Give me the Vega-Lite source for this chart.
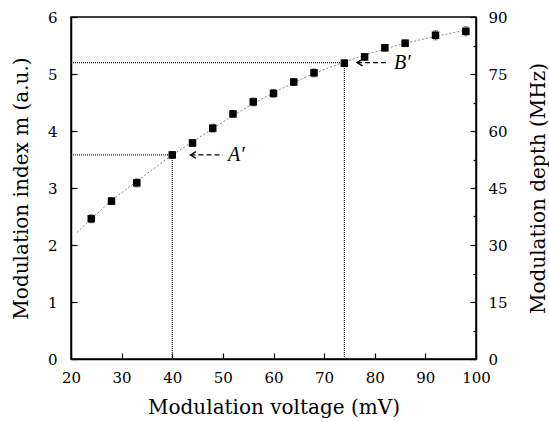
{
  "$schema": "https://vega.github.io/schema/vega-lite/v6.json",
  "width": 405,
  "height": 342,
  "autosize": "none",
  "padding": {"left": 71, "top": 17, "right": 73, "bottom": 63},
  "background": "white",
  "config": {
    "view": {"stroke": "black", "strokeWidth": 1.5},
    "font": "DejaVu Serif",
    "axis": {
      "grid": false,
      "domainColor": "black",
      "domainWidth": 1.5,
      "tickColor": "black",
      "tickWidth": 1.2,
      "labelColor": "black",
      "titleColor": "black",
      "labelFont": "DejaVu Serif",
      "titleFont": "DejaVu Serif",
      "labelFontSize": 15,
      "titleFontSize": 20,
      "titleFontWeight": "normal",
      "labelFlush": false
    }
  },
  "datasets": {
    "points": [
      {"v": 24, "m": 2.46, "err": 0.07},
      {"v": 28, "m": 2.77, "err": 0.06},
      {"v": 33, "m": 3.09, "err": 0.07},
      {"v": 40, "m": 3.58, "err": 0.06},
      {"v": 44, "m": 3.79, "err": 0.06},
      {"v": 48, "m": 4.05, "err": 0.07},
      {"v": 52, "m": 4.3, "err": 0.06},
      {"v": 56, "m": 4.51, "err": 0.07},
      {"v": 60, "m": 4.66, "err": 0.07},
      {"v": 64, "m": 4.86, "err": 0.06},
      {"v": 68, "m": 5.02, "err": 0.07},
      {"v": 74, "m": 5.19, "err": 0.06},
      {"v": 78, "m": 5.3, "err": 0.06},
      {"v": 82, "m": 5.46, "err": 0.06},
      {"v": 86, "m": 5.54, "err": 0.06},
      {"v": 92, "m": 5.68, "err": 0.08},
      {"v": 98, "m": 5.75, "err": 0.08}
    ],
    "fit": [
      {"v": 21.2, "m": 2.22},
      {"v": 24, "m": 2.46},
      {"v": 28, "m": 2.78},
      {"v": 33, "m": 3.12},
      {"v": 40, "m": 3.58},
      {"v": 44, "m": 3.81},
      {"v": 48, "m": 4.04},
      {"v": 52, "m": 4.27},
      {"v": 56, "m": 4.48},
      {"v": 60, "m": 4.67},
      {"v": 64, "m": 4.85},
      {"v": 68, "m": 5.01},
      {"v": 74, "m": 5.21},
      {"v": 78, "m": 5.33},
      {"v": 82, "m": 5.44},
      {"v": 86, "m": 5.54},
      {"v": 92, "m": 5.66},
      {"v": 98, "m": 5.77}
    ],
    "hlines": [
      {"v": 20, "v2": 40, "m": 3.58},
      {"v": 20, "v2": 74, "m": 5.2}
    ],
    "vlines": [
      {"v": 40, "m": 0, "m2": 3.58},
      {"v": 74, "m": 0, "m2": 5.2}
    ],
    "arrows": [
      {"label": "A′", "v": 43.6, "tail": 50, "tx": 51, "m": 3.58},
      {"label": "B′", "v": 76.5, "tail": 82.8, "tx": 83.8, "m": 5.2}
    ],
    "depth": [{"d": 0}, {"d": 90}]
  },
  "layer": [
    {
      "data": {"name": "fit"},
      "mark": {"type": "line", "color": "#888888", "strokeWidth": 1, "strokeDash": [2, 2]},
      "encoding": {
        "x": {
          "field": "v", "type": "quantitative",
          "scale": {"domain": [20, 100], "nice": false, "zero": false},
          "axis": {
            "orient": "bottom",
            "title": "Modulation voltage (mV)",
            "format": "d",
            "values": [20, 25, 30, 35, 40, 45, 50, 55, 60, 65, 70, 75, 80, 85, 90, 95, 100],
            "labelExpr": "datum.value % 10 === 0 ? datum.label : ''",
            "tickSize": {"condition": {"test": "datum.value % 10 === 0", "value": -6}, "value": -3},
            "labelPadding": 17,
            "titlePadding": 12
          }
        },
        "y": {
          "field": "m", "type": "quantitative",
          "scale": {"domain": [0, 6], "nice": false},
          "axis": {
            "orient": "left",
            "title": "Modulation index m (a.u.)",
            "format": "d",
            "values": [0, 0.5, 1, 1.5, 2, 2.5, 3, 3.5, 4, 4.5, 5, 5.5, 6],
            "labelExpr": "datum.value % 1 === 0 ? datum.label : ''",
            "tickSize": {"condition": {"test": "datum.value % 1 === 0", "value": -6}, "value": -3},
            "labelPadding": 20,
            "titlePadding": 16
          }
        }
      }
    },
    {
      "data": {"name": "hlines"},
      "mark": {"type": "rule", "color": "#222222", "strokeWidth": 1.2, "strokeDash": [1, 1]},
      "encoding": {
        "x": {"field": "v", "type": "quantitative"},
        "x2": {"field": "v2"},
        "y": {"field": "m", "type": "quantitative", "scale": {"domain": [0, 6], "nice": false}, "axis": null}
      }
    },
    {
      "data": {"name": "vlines"},
      "mark": {"type": "rule", "color": "#222222", "strokeWidth": 1.2, "strokeDash": [1, 1]},
      "encoding": {
        "x": {"field": "v", "type": "quantitative"},
        "y": {"field": "m", "type": "quantitative", "scale": {"domain": [0, 6], "nice": false}, "axis": null},
        "y2": {"field": "m2"}
      }
    },
    {
      "data": {"name": "points"},
      "mark": {"type": "errorbar", "ticks": {"size": 5, "color": "#555555"}, "color": "#555555", "thickness": 1},
      "encoding": {
        "x": {"field": "v", "type": "quantitative"},
        "y": {"field": "m", "type": "quantitative", "scale": {"domain": [0, 6], "nice": false}, "axis": null},
        "yError": {"field": "err"}
      }
    },
    {
      "data": {"name": "points"},
      "mark": {"type": "square", "color": "black", "filled": true, "opacity": 1, "size": 56},
      "encoding": {
        "x": {"field": "v", "type": "quantitative"},
        "y": {"field": "m", "type": "quantitative", "scale": {"domain": [0, 6], "nice": false}, "axis": null}
      }
    },
    {
      "data": {"name": "arrows"},
      "mark": {"type": "rule", "color": "black", "strokeWidth": 1.3, "strokeDash": [5, 3]},
      "encoding": {
        "x": {"field": "v", "type": "quantitative"},
        "x2": {"field": "tail"},
        "y": {"field": "m", "type": "quantitative", "scale": {"domain": [0, 6], "nice": false}, "axis": null}
      }
    },
    {
      "data": {"name": "arrows"},
      "mark": {"type": "point", "shape": "M2,-1.2L0,0L2,1.2", "filled": false, "stroke": "black", "strokeWidth": 1.4, "size": 30, "opacity": 1},
      "encoding": {
        "x": {"field": "v", "type": "quantitative"},
        "y": {"field": "m", "type": "quantitative", "scale": {"domain": [0, 6], "nice": false}, "axis": null}
      }
    },
    {
      "data": {"name": "arrows"},
      "mark": {"type": "text", "align": "left", "baseline": "middle", "font": "Liberation Serif", "fontStyle": "italic", "fontSize": 20, "color": "black"},
      "encoding": {
        "x": {"field": "tx", "type": "quantitative"},
        "y": {"field": "m", "type": "quantitative", "scale": {"domain": [0, 6], "nice": false}, "axis": null},
        "text": {"field": "label"}
      }
    },
    {
      "data": {"name": "depth"},
      "mark": {"type": "point", "opacity": 0},
      "encoding": {
        "y": {
          "field": "d", "type": "quantitative",
          "scale": {"domain": [0, 90], "nice": false},
          "axis": {
            "orient": "right",
            "title": "Modulation depth (MHz)",
            "titleAngle": 270,
            "format": "d",
            "values": [0, 7.5, 15, 22.5, 30, 37.5, 45, 52.5, 60, 67.5, 75, 82.5, 90],
            "labelExpr": "datum.value % 15 === 0 ? datum.label : ''",
            "tickSize": {"condition": {"test": "datum.value % 15 === 0", "value": -6}, "value": -3},
            "labelPadding": 18,
            "titlePadding": 41
          }
        }
      }
    }
  ],
  "resolve": {"scale": {"y": "independent"}}
}
